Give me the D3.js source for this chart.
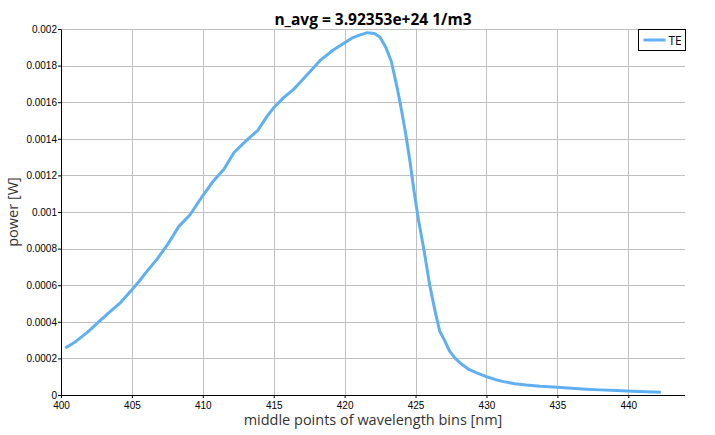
<!DOCTYPE html>
<html>
<head>
<meta charset="utf-8">
<script src="https://cdn.jsdelivr.net/npm/d3@7"></script>
<style>
  body { margin: 0; background: #fff; }
  .tick text { font-family: "Liberation Sans", Arial, sans-serif; font-size: 10px; fill: #000; }
</style>
</head>
<body>
<svg id="chart" width="715" height="435"></svg>
<script>
// wavelength bin centres [nm]
var wavelength = [400.3, 401.0, 401.9, 402.6, 403.3, 404.2, 405.0, 405.5, 406.0, 406.8,
  407.5, 408.3, 409.1, 410.0, 410.7, 411.5, 412.2, 413.1, 413.9, 414.5,
  415.0, 415.7, 416.4, 416.9, 417.6, 418.3, 419.2, 420.0, 420.5, 421.0,
  421.6, 422.1, 422.5, 422.9, 423.3, 423.7, 424.0, 424.3, 424.6, 424.9,
  425.2, 425.6, 426.0, 426.4, 426.7, 427.1, 427.4, 427.8, 428.3, 428.8,
  429.4, 430.0, 430.6, 431.2, 432.0, 432.8, 433.8, 435.0, 436.0, 437.0,
  438.0, 439.2, 440.3, 441.3, 442.3];

// TE power [W]
var powerTE = [0.000257, 0.000290, 0.000345, 0.000395, 0.000445, 0.000505, 0.000575, 0.000620, 0.000670, 0.000745,
  0.000820, 0.000920, 0.000985, 0.001090, 0.001165, 0.001235, 0.001325, 0.001393, 0.001448, 0.001520,
  0.001570, 0.001625, 0.001670, 0.001712, 0.001770, 0.001830, 0.001885, 0.001925, 0.001950, 0.001965,
  0.001980, 0.001975, 0.001955, 0.001900, 0.001821, 0.001680, 0.001560, 0.001430, 0.001280, 0.001110,
  0.000960, 0.000790, 0.000600, 0.000450, 0.000350, 0.000290, 0.000240, 0.000200, 0.000165, 0.000138,
  0.000118, 0.000100, 0.000085, 0.000073, 0.000062, 0.000055, 0.000048, 0.000042, 0.000037, 0.000032,
  0.000028, 0.000024, 0.000021, 0.000018, 0.000015];

var xTicks = [400, 405, 410, 415, 420, 425, 430, 435, 440];
var yTicks = [0, 0.0002, 0.0004, 0.0006, 0.0008, 0.001, 0.0012, 0.0014, 0.0016, 0.0018, 0.002];

var margin = {top: 29, right: 30, bottom: 40, left: 61};
var width = 715 - margin.left - margin.right;
var height = 435 - margin.top - margin.bottom;

var x = d3.scaleLinear().domain([400, 444]).range([0, width]);
var y = d3.scaleLinear().domain([0, 0.002]).range([height, 0]);

var svg = d3.select("#chart");
var chart = svg.append("g")
  .attr("transform", "translate(" + margin.left + "," + margin.top + ")");

// grid
chart.append("g").selectAll("line")
  .data(xTicks)
  .enter().append("line")
  .attr("x1", function(d) { return Math.round(x(d)) + 0.5; })
  .attr("x2", function(d) { return Math.round(x(d)) + 0.5; })
  .attr("y1", 0).attr("y2", height)
  .attr("stroke", "#c0c0c0");

chart.append("g").selectAll("line")
  .data(yTicks)
  .enter().append("line")
  .attr("y1", function(d) { return Math.round(y(d)) + 0.5; })
  .attr("y2", function(d) { return Math.round(y(d)) + 0.5; })
  .attr("x1", 0).attr("x2", width)
  .attr("stroke", "#c0c0c0");

// axes
var xAxis = d3.axisBottom(x).tickValues(xTicks).tickSize(3).tickPadding(4).tickFormat(d3.format("d"));
var yAxis = d3.axisLeft(y).tickValues(yTicks).tickSize(3).tickPadding(1)
  .tickFormat(function(d) { return String(+d.toFixed(4)); });

chart.append("g")
  .attr("transform", "translate(0," + height + ")")
  .call(xAxis)
  .call(function(g) { g.select(".domain").attr("d", "M0.5,0.5H" + width); });

chart.append("g")
  .call(yAxis)
  .call(function(g) { g.select(".domain").attr("d", "M0.5,0.5V" + height); });

// curve
var line = d3.line()
  .x(function(d, i) { return x(wavelength[i]); })
  .y(function(d) { return y(d); });

chart.append("path")
  .datum(powerTE)
  .attr("fill", "none")
  .attr("stroke", "#5eb0f2")
  .attr("stroke-width", 3)
  .attr("stroke-linejoin", "round")
  .attr("d", line);

// title
svg.append("text")
  .attr("x", margin.left + width / 2)
  .attr("y", 25)
  .attr("text-anchor", "middle")
  .style("font-family", "'Open Sans', 'Noto Sans', sans-serif")
  .style("font-weight", "bold")
  .style("font-size", "15.5px")
  .text("n_avg = 3.92353e+24 1/m3");

// axis labels
svg.append("text")
  .attr("x", margin.left + width / 2)
  .attr("y", 425)
  .attr("text-anchor", "middle")
  .style("font-family", "'Open Sans', 'Noto Sans', sans-serif")
  .style("font-size", "14.5px")
  .style("fill", "#333")
  .text("middle points of wavelength bins [nm]");

svg.append("text")
  .attr("transform", "translate(18," + (margin.top + height / 2) + ") rotate(-90)")
  .attr("text-anchor", "middle")
  .style("font-family", "'Open Sans', 'Noto Sans', sans-serif")
  .style("font-size", "14.5px")
  .style("fill", "#333")
  .text("power [W]");

// legend
var legend = svg.append("g").attr("transform", "translate(638.5,29.5)");
legend.append("rect")
  .attr("width", 47).attr("height", 21)
  .attr("fill", "#fff").attr("stroke", "#000");
legend.append("line")
  .attr("x1", 5).attr("x2", 27).attr("y1", 10.5).attr("y2", 10.5)
  .attr("stroke", "#5eb0f2").attr("stroke-width", 3);
legend.append("text")
  .attr("x", 30).attr("y", 15)
  .style("font-family", "'Open Sans', 'Noto Sans', sans-serif")
  .style("font-size", "12px")
  .text("TE");
</script>
</body>
</html>
